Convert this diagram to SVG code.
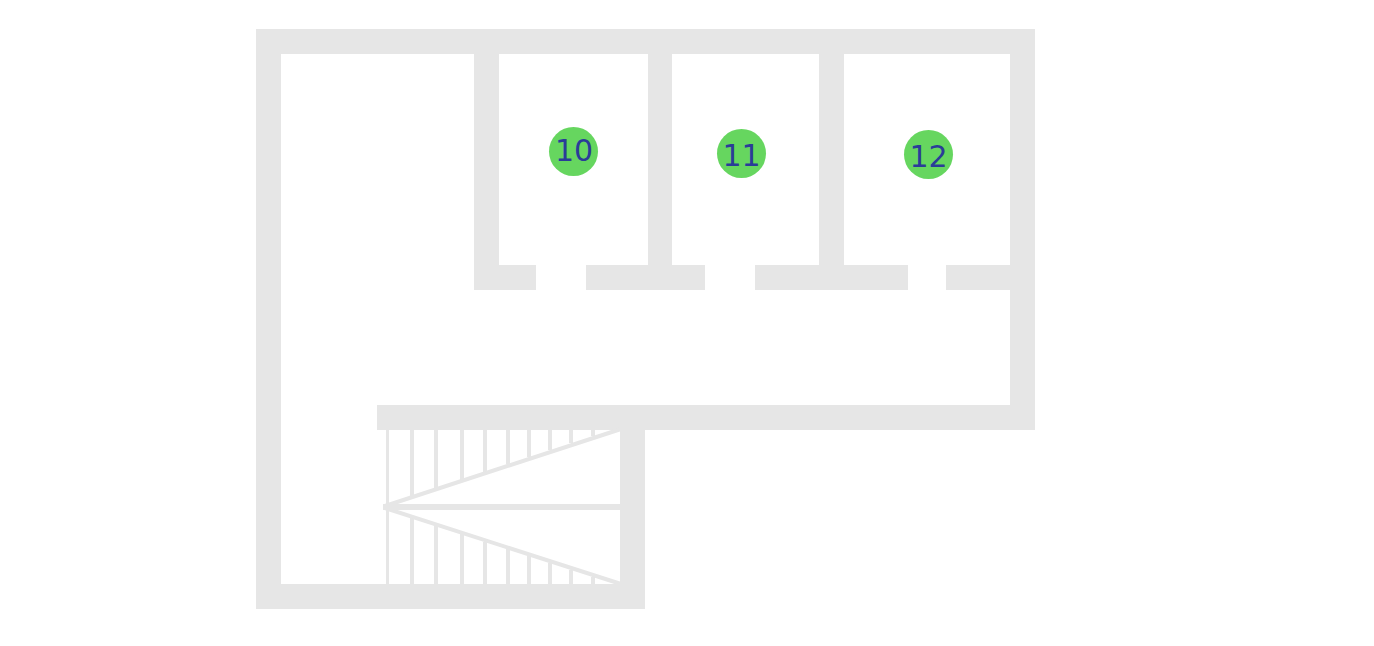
<svg xmlns="http://www.w3.org/2000/svg" width="1374" height="646" viewBox="0 0 1374 646">
<style>
.w{fill:#e6e6e6}
.s{stroke:#e6e6e6;stroke-width:4;fill:none}
.c{fill:#66d65f}
.t{fill:#2a3c98;font-family:"DejaVu Sans",sans-serif;font-size:30px;text-anchor:middle}
</style>
<rect width="1374" height="646" fill="#fff"/>
<g id="walls">
<rect class="w" x="256" y="29" width="779" height="25"/>
<rect class="w" x="256" y="29" width="25" height="580"/>
<rect class="w" x="256" y="584" width="389" height="25"/>
<rect class="w" x="620" y="430" width="25" height="179"/>
<rect class="w" x="377" y="405" width="658" height="25"/>
<rect class="w" x="1010" y="29" width="25" height="401"/>
<rect class="w" x="474" y="54" width="25" height="236"/>
<rect class="w" x="648" y="54" width="24" height="236"/>
<rect class="w" x="819" y="54" width="25" height="236"/>
<rect class="w" x="474" y="265" width="62" height="25"/>
<rect class="w" x="586" y="265" width="119" height="25"/>
<rect class="w" x="755" y="265" width="153" height="25"/>
<rect class="w" x="946" y="265" width="64" height="25"/>
</g>
<g id="stairs">
<path class="s" style="stroke-width:3" d="M387.500 430V584"/>
<path class="s" d="M412 430V496M436 430V488M462 430V480M485 430V472M508 430V464M529 430V457M550 430V450M571 430V443M593 430V436"/>
<path class="s" d="M412 518V584M436 526V584M462 534V584M485 542V584M508 549V584M529 556V584M550 563V584M571 570V584M593 577V584"/>
<path class="s" d="M385 506L621 429M385 508L621 584"/>
<rect class="w" x="383" y="504" width="237" height="6"/>
</g>
<g id="n10"><circle class="c" cx="573.500" cy="151.500" r="24.500"/><text class="t" x="574" y="160.700">10</text></g>
<g id="n11"><circle class="c" cx="741.500" cy="153.500" r="24.500"/><text class="t" x="741.500" y="165.700">11</text></g>
<g id="n12"><circle class="c" cx="928.500" cy="154.500" r="24.500"/><text class="t" x="928.500" y="166.700">12</text></g>
</svg>
